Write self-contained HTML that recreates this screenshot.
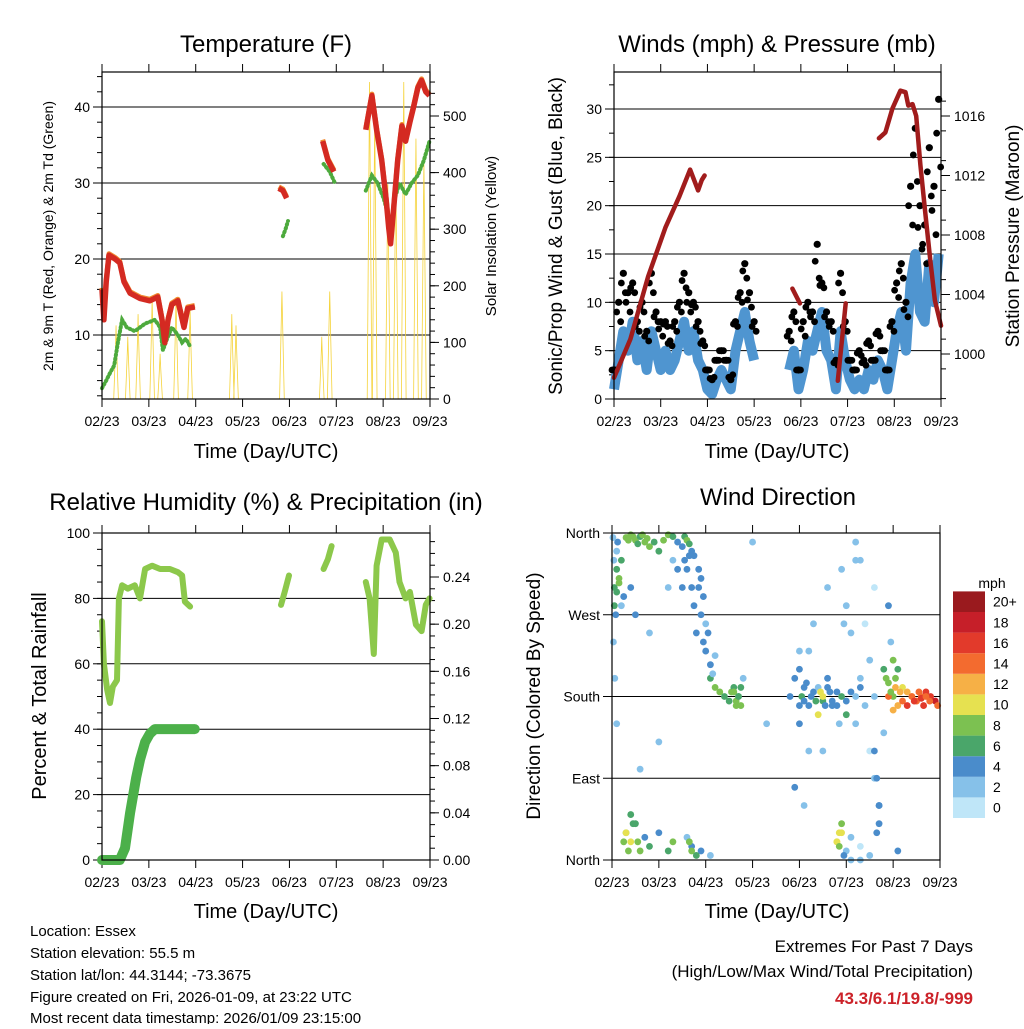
<!DOCTYPE html>
<html><head><meta charset="utf-8"><style>
body{margin:0;background:#fff;}
svg text{font-family:"Liberation Sans",sans-serif;fill:#000;}
</style></head><body>
<svg id="s" width="1024" height="1024" viewBox="0 0 1024 1024" xmlns="http://www.w3.org/2000/svg">
<g id="static">
<text x="266" y="52" font-size="24" text-anchor="middle">Temperature (F)</text>
<text x="777" y="52" font-size="24" text-anchor="middle">Winds (mph) &amp; Pressure (mb)</text>
<text x="266" y="510" font-size="24" text-anchor="middle">Relative Humidity (%) &amp; Precipitation (in)</text>
<text x="778" y="505" font-size="24" text-anchor="middle">Wind Direction</text>
<text x="266" y="458" font-size="20" text-anchor="middle">Time (Day/UTC)</text>
<text x="777" y="458" font-size="20" text-anchor="middle">Time (Day/UTC)</text>
<text x="266" y="918" font-size="20" text-anchor="middle">Time (Day/UTC)</text>
<text x="777" y="918" font-size="20" text-anchor="middle">Time (Day/UTC)</text>
<text transform="translate(53,236) rotate(-90)" font-size="14" text-anchor="middle">2m &amp; 9m T (Red, Orange) &amp; 2m Td (Green)</text>
<text transform="translate(496,236) rotate(-90)" font-size="15" text-anchor="middle">Solar Insolation (Yellow)</text>
<text transform="translate(562,236) rotate(-90)" font-size="19" text-anchor="middle">Sonic/Prop Wind &amp; Gust (Blue, Black)</text>
<text transform="translate(1019,236) rotate(-90)" font-size="19" text-anchor="middle">Station Pressure (Maroon)</text>
<text transform="translate(46,696) rotate(-90)" font-size="20" text-anchor="middle">Percent &amp; Total Rainfall</text>
<text transform="translate(540,696) rotate(-90)" font-size="19" text-anchor="middle">Direction (Colored By Speed)</text>
<text x="992" y="588" font-size="14" text-anchor="middle">mph</text>
<g font-size="15">
<text x="30" y="936">Location: Essex</text>
<text x="30" y="958">Station elevation: 55.5 m</text>
<text x="30" y="980">Station lat/lon: 44.3144; -73.3675</text>
<text x="30" y="1002">Figure created on Fri, 2026-01-09, at 23:22 UTC</text>
<text x="30" y="1023">Most recent data timestamp: 2026/01/09 23:15:00</text>
</g>
<g font-size="17" text-anchor="end">
<text x="973" y="952">Extremes For Past 7 Days</text>
<text x="973" y="977">(High/Low/Max Wind/Total Precipitation)</text>
<text x="973" y="1004" font-weight="bold" style="fill:#cc2229">43.3/6.1/19.8/-999</text>
</g>
</g>
</svg>
<script>
const xTickLabels=["02/23","03/23","04/23","05/23","06/23","07/23","08/23","09/23"];
const tempLeftTicks=[10,20,30,40];
const solarTicks=[0,100,200,300,400,500];
const windTicks=[0,5,10,15,20,25,30];
const pressTicks=[1000,1004,1008,1012,1016];
const rhTicks=[0,20,40,60,80,100];
const precipTicks=[0,0.04,0.08,0.12,0.16,0.20,0.24];
const dirTicks=[0,90,180,270,360];
const dirLabels=["North","East","South","West","North"];
const speedBins=["0","2","4","6","8","10","12","14","16","18","20+"];
const speedColors=["#bfe6f8","#86c1e9","#4a8ccb","#4aa66a","#7cc151","#e6e150","#f6b046","#f36b2f","#e23a2b","#c61f29","#9a1a1e"];

const tempT=[0,0.04,0.09,0.15,0.28,0.38,0.47,0.6,0.81,1.02,1.19,1.28,1.34,1.41,1.49,1.62,1.75,1.83,1.98,null,3.77,3.86,3.94,null,4.71,4.82,4.95,null,5.63,5.76,5.86,5.97,6.06,6.12,6.16,6.23,6.31,6.40,6.48,6.57,6.65,6.74,6.82,6.91,6.99];
const tempV=[16,12,17,20.5,20,19.5,17,15.5,14.8,14.5,15,12,9,12,14,14.5,11,13.5,13.7,null,29.3,29,28,null,35.5,33,31.5,null,37,41.5,37,33,28,24,22,27,33,37.5,35.5,38,40,42.5,43.5,42,41.5];
const tdT=[0,0.09,0.17,0.26,0.34,0.43,0.53,0.7,0.92,1.13,1.24,1.3,1.39,1.49,1.62,1.71,1.79,1.88,null,3.86,3.92,3.97,null,4.73,4.86,4.97,null,5.63,5.76,5.88,6.01,6.10,6.16,6.25,6.35,6.48,6.61,6.74,6.87,6.99];
const tdV=[3,4,5,6,9,12,11,10.5,11.5,12,11,8,9.5,11,10,9,9.5,8.5,null,23,24,25,null,32.5,31.5,30,null,29,31,30,28,26,22,28,30,28.5,30,31,33,35.5];
const solarT=[0.3,0.55,0.77,1.07,1.24,1.58,1.88,2.77,2.86,3.84,4.69,4.86,5.71,5.82,6.1,6.27,6.44,6.7,6.87];
const solarV=[130,110,150,180,80,180,160,150,130,190,110,190,560,500,380,400,560,460,420];

const pressT=[0,0.35,0.73,1.1,1.4,1.63,1.8,1.88,1.94,null,3.82,3.98,null,4.79,4.96,null,5.67,5.81,5.96,6.13,6.24,6.30,6.39,6.47,6.56,6.66,6.77,6.87,7.0];
const pressV=[998.4,1001,1005.2,1008.5,1010.6,1012.4,1011,1011.7,1012,null,1004.4,1003.4,null,998.2,1003.4,null,1014.5,1014.9,1016.5,1017.7,1017.6,1016.7,1016.8,1016,1012.7,1009.6,1006.3,1003.6,1001.9];
const windT=[0,0.1,0.2,0.3,0.4,0.5,0.6,0.7,0.8,0.9,1.0,1.1,1.2,1.3,1.4,1.5,1.6,1.7,1.8,1.9,2.0,2.1,2.2,2.3,2.4,2.5,2.6,2.7,2.8,2.9,3.0,null,3.75,3.85,3.95,4.05,4.15,4.25,4.35,4.45,4.55,4.65,4.75,4.85,4.95,5.05,5.15,5.25,5.35,5.45,5.55,5.65,5.75,5.85,5.95,6.05,6.15,6.25,6.35,6.45,6.55,6.65,6.75,6.85,6.95];
const windV=[1,4,7,5,8,4,6,3,7,5,3,5,3,4,6,8,5,7,4,3,1,0.5,2,3,2,1,5,7,9,6,4,null,3,5,1,3,6,5,7,9,5,4,1,7,4,2,1,2,1,3,2,4,3,1,4,7,9,5,12,15,9,8,14,10,15];
const gustV=[3,10,13,11,12,8,10,7,13,9,8,8,6,8,10,13,11,10,8,6,3,2,4,5,4,2,8,11,14,11,8,null,7,9,3,8,10,9,16,12,9,8,4,13,8,4,3,5,4,6,4,7,5,3,8,12,14,10,22,28,20,18,26,22,31];

const rhT=[0,0.04,0.11,0.17,0.23,0.32,0.36,0.43,0.55,0.7,0.81,0.92,1.07,1.24,1.45,1.62,1.71,1.77,1.88,null,3.82,3.90,3.99,null,4.73,4.82,4.90,null,5.63,5.71,5.8,5.86,5.97,6.14,6.27,6.35,6.48,6.57,6.70,6.82,6.91,6.99];
const rhV=[73,60,52,48,53,55,80,84,83,84,80,89,90,89,89,88,87,79,77.5,null,78,82,87,null,89,92,96,null,85,80,63,90,98,98,94,85,80,82,72,70,78,80];
const precipT=[0,0.38,0.49,0.6,0.73,0.81,0.92,1.02,1.13,1.98];
const precipV=[0,0,0.01,0.04,0.07,0.085,0.1,0.107,0.111,0.111];

const dirT=[0.05,0.1,0.15,0.2,0.25,0.12,0.3,0.4,0.5,0.6,0.7,0.8,0.9,1.0,1.1,1.2,1.3,1.4,1.5,1.55,1.6,1.65,1.7,1.75,1.8,1.85,1.9,1.95,2.0,2.1,2.2,2.3,2.4,2.5,2.55,2.6,2.7,2.65,0.3,0.4,0.5,0.6,0.7,0.8,1.0,1.2,1.3,1.6,1.7,1.9,2.1,0.02,0.1,0.2,0.4,0.5,0.8,3.8,3.9,4.0,4.1,4.2,4.3,4.4,4.5,4.6,4.7,4.8,4.9,5.0,4.0,4.2,4.4,4.6,4.8,5.0,5.1,5.2,5.3,5.4,5.5,5.6,5.2,5.3,5.4,5.5,5.6,5.7,4.8,4.85,4.9,5.0,5.1,5.3,5.5,5.8,5.9,5.95,6.0,6.05,6.1,6.2,6.3,6.4,6.5,6.6,6.7,6.8,6.9,6.95,5.9,6.0,6.1,5.7,3.9,4.1,4.5,5.2,2.8,3.0,3.3,1.0,0.6];
const dirV=[300,320,310,330,290,350,355,358,352,356,350,345,350,340,352,358,356,350,345,330,320,335,300,280,250,300,270,240,230,200,190,185,180,175,185,190,180,170,30,20,40,10,25,15,30,10,20,25,15,10,5,355,340,280,300,270,250,180,200,150,190,170,185,160,175,190,170,185,180,175,210,230,190,200,170,160,185,180,190,170,220,300,350,330,260,120,90,60,20,30,40,10,25,15,5,140,280,240,180,200,210,190,185,180,175,180,185,180,175,170,180,165,10,40,80,60,120,150,200,350,150,130,100,60,70];
const dirS=[5,6,7,5,4,3,7,8,7,6,8,7,5,6,8,7,6,4,3,3,4,3,4,3,3,4,3,3,3,6,7,8,6,5,7,6,5,7,8,9,6,7,4,5,3,6,7,2,3,3,1,2,2,2,3,3,2,3,4,3,3,4,3,10,5,4,3,4,5,3,3,2,2,3,4,5,3,2,3,2,1,0,1,1,0,0,1,3,9,10,8,2,1,0,1,2,3,2,7,8,5,9,12,11,14,13,15,16,18,14,13,12,3,3,3,2,2,1,2,1,2,2,1,2,1];
const dirT2=[0.35,0.45,0.55,0.65,0.75,1.55,1.6,1.65,1.7,1.75,0.05,0.1,0.15,0.08,0.03,0.04,0.06,0.1,1.85,1.9,1.95,2.0,2.05,2.1,2.15,2.2,1.4,1.5,1.3,1.2,2.6,2.65,2.7,2.75,2.75,4.0,4.05,4.1,4.15,4.25,4.35,4.45,4.5,4.55,4.65,4.7,4.0,4.2,4.3,4.6,4.9,5.0,5.1,5.2,5.3,4.95,4.85,4.8,4.85,4.9,4.95,5.1,5.3,5.6,5.65,5.7,5.65,5.6,5.8,5.85,5.9,5.95,6.0,6.05,6.1,6.15,6.2,6.3,6.4,6.45,6.55,6.6,6.65,6.7,6.78,0.25,0.3,0.35,0.4,0.45,0.55,1.65,1.7,1.8];
const dirV2=[352,356,348,358,354,356,352,348,340,335,280,295,305,270,240,330,200,150,320,310,290,260,250,215,205,225,320,300,330,300,185,175,180,190,170,170,180,175,195,180,175,185,180,170,185,175,230,120,260,300,320,280,250,330,200,260,150,20,15,30,5,0,0,120,90,60,30,180,210,200,195,185,220,190,170,185,175,170,180,175,185,178,170,180,175,20,30,10,50,40,20,20,10,5];
const dirS2=[7,8,6,7,8,6,7,5,4,3,6,5,7,4,2,2,1,1,4,3,3,2,3,3,2,2,3,3,2,2,7,8,6,6,8,4,5,3,4,4,5,10,9,4,4,3,2,2,2,1,1,1,1,1,1,2,2,9,8,9,3,2,1,3,3,4,4,2,6,7,7,8,8,11,12,12,13,15,14,16,14,15,16,13,14,8,9,7,5,6,7,7,8,6];

const S=document.getElementById('s');
const NS='http://www.w3.org/2000/svg';
function mk(tag,attrs,parent){const e=document.createElementNS(NS,tag);for(const k in attrs)e.setAttribute(k,attrs[k]);(parent||S).appendChild(e);return e;}
function lin(d0,d1,r0,r1){return v=>r0+(v-d0)*(r1-r0)/(d1-d0);}
function pathFrom(T,V,fx,fy){let d='',pen=false;for(let i=0;i<T.length;i++){if(T[i]===null||V[i]===null){pen=false;continue;}d+=(pen?'L':'M')+fx(T[i]).toFixed(1)+' '+fy(V[i]).toFixed(1);pen=true;}return d;}

function frame(name,L,R,T,B,fx,leftTicks,leftFy,leftFmt,leftMinor,rightTicks,rightFy,rightFmt,rightMinor,grid){
  const g=mk('g',{});
  
  
  (grid||[]).forEach(v=>{const y=leftFy(v);const l=mk('line',{x1:L,x2:R,y1:y,y2:y,stroke:'#000','stroke-width':1},g);
    
    });
  for(let k=0;k<=7;k++){const x=fx(k);
    mk('line',{x1:x,x2:x,y1:B,y2:B+8,stroke:'#000'},g);mk('line',{x1:x,x2:x,y1:T,y2:T-8,stroke:'#000'},g);
    const t=mk('text',{x:x,y:B+27,'font-size':14,'text-anchor':'middle'},g);t.textContent=xTickLabels[k];
    
    }
  (leftMinor||[]).forEach(v=>{const y=leftFy(v);if(y>=T-0.5&&y<=B+0.5)mk('line',{x1:L-5,x2:L,y1:y,y2:y,stroke:'#000'},g);});
  leftTicks.forEach((v,i)=>{const y=leftFy(v);mk('line',{x1:L-9,x2:L,y1:y,y2:y,stroke:'#000'},g);
    const t=mk('text',{x:L-12,y:y+5,'font-size':14,'text-anchor':'end'},g);t.textContent=leftFmt(v,i);
    
    });
  if(rightTicks){(rightMinor||[]).forEach(v=>{const y=rightFy(v);if(y>=T-0.5&&y<=B+0.5)mk('line',{x1:R,x2:R+5,y1:y,y2:y,stroke:'#000'},g);});
    rightTicks.forEach(v=>{const y=rightFy(v);mk('line',{x1:R,x2:R+9,y1:y,y2:y,stroke:'#000'},g);
    const t=mk('text',{x:R+13,y:y+5,'font-size':14},g);t.textContent=rightFmt(v);
    
    });}
  return g;
}
function box(name,L,R,T,B){const r=mk('rect',{x:L,y:T,width:R-L,height:B-T,fill:'none',stroke:'#000','stroke-width':1.2});
  
  }
function range(a,b,s){const o=[];for(let v=a;v<=b+1e-9;v+=s)o.push(+v.toFixed(4));return o;}

// Panel 1: temperature
(function(){
  const L=102,R=430,T=72,B=399;
  const fx=lin(0,7,L,R), fy=lin(10,40,335,107), fs=lin(0,500,399,116);
  frame('temperature',L,R,T,B,fx,tempLeftTicks,fy,v=>v,range(2,44,2),solarTicks,fs,v=>v,range(0,560,20),tempLeftTicks);
  const gs=mk('g',{});
  
  
  solarT.forEach((t,i)=>{const d='M'+fx(t-0.05)+' '+fs(0)+'Q'+fx(t-0.01)+' '+fs(solarV[i]*0.7)+' '+fx(t)+' '+fs(solarV[i])+'Q'+fx(t+0.01)+' '+fs(solarV[i]*0.7)+' '+fx(t+0.05)+' '+fs(0);
    const p=mk('path',{d:d,fill:'none',stroke:'#f5d33b','stroke-width':0.8},gs);
    
    });
  const p1=mk('path',{d:pathFrom(tdT,tdV,fx,fy),fill:'none',stroke:'#4daa3d','stroke-width':4,'stroke-dasharray':'1 3','stroke-linecap':'round'});
  
  
  const p0=mk('path',{d:pathFrom(tempT,tempV,fx,v=>fy(v)-1.5),fill:'none',stroke:'#f08a30','stroke-width':5,'stroke-linejoin':'round'});
  
  
  const p2=mk('path',{d:pathFrom(tempT,tempV,fx,fy),fill:'none',stroke:'#d42a22','stroke-width':5.5,'stroke-linejoin':'round'});
  
  
  box('temperature',L,R,T,B);
})();

// Panel 2: winds & pressure
(function(){
  const L=614,R=941,T=72,B=399;
  const fx=lin(0,7,L,R), fy=lin(0,30,399,109), fp=lin(1000,1016,354,116);
  frame('winds',L,R,T,B,fx,windTicks,fy,v=>v,range(0,34,2.5),pressTicks,fp,v=>v,range(997,1019,2),windTicks.slice(1));
  const pb=mk('path',{d:pathFrom(windT,windV,fx,fy),fill:'none',stroke:'#4f95d0','stroke-width':10,'stroke-linejoin':'round'});
  
  
  const gg=mk('g',{});
  
  
  windT.forEach((t,i)=>{if(t===null)return;
    const c=mk('circle',{cx:fx(t),cy:fy(gustV[i]),r:3.6,fill:'#000'},gg);
    
    
    const c2=mk('circle',{cx:fx(t)+2,cy:fy((gustV[i]+windV[i])/2+1),r:3.4,fill:'#000'},gg);
    
    
    const c3=mk('circle',{cx:fx(t)-2,cy:fy((gustV[i]*3+windV[i])/4+0.5),r:3.4,fill:'#000'},gg);
    
    });
  const pp=mk('path',{d:pathFrom(pressT,pressV,fx,fp),fill:'none',stroke:'#a11c1c','stroke-width':4.5,'stroke-linejoin':'round','stroke-linecap':'round'});
  
  
  box('winds',L,R,T,B);
})();

// Panel 3: humidity & precipitation
(function(){
  const L=102,R=430,T=533,B=860;
  const fx=lin(0,7,L,R), fy=lin(0,100,860,533), fr=lin(0,0.24,860,577);
  frame('humidity',L,R,T,B,fx,rhTicks,fy,v=>v,range(0,100,5),precipTicks,fr,v=>v.toFixed(2),range(0,0.28,0.01),[20,40,60,80]);
  const pr=mk('path',{d:pathFrom(precipT,precipV,fx,fr),fill:'none',stroke:'#4cb04a','stroke-width':10,'stroke-linejoin':'round','stroke-linecap':'round'});
  
  
  const ph=mk('path',{d:pathFrom(rhT,rhV,fx,fy),fill:'none',stroke:'#8cc84b','stroke-width':6,'stroke-linejoin':'round','stroke-linecap':'round'});
  
  
  box('humidity',L,R,T,B);
})();

// Panel 4: wind direction
(function(){
  const L=612,R=940,T=533,B=860;
  const fx=lin(0,7,L,R), fy=lin(0,360,860,533);
  frame('direction',L,R,T,B,fx,dirTicks,fy,(v,i)=>dirLabels[i],[],null,null,null,[],[90,180,270]);
  const gd=mk('g',{});
  
  
  function drawDir(TT,VV,SS){TT.forEach((t,i)=>{const sp=SS[i]===undefined?2:SS[i];const bin=Math.min(10,Math.round(sp/2));
    const c=mk('circle',{cx:fx(t),cy:fy(VV[i]===undefined?180:VV[i]),r:3.4,fill:speedColors[bin]},gd);
    
    });}
  drawDir(dirT,dirV,dirS);
  drawDir(dirT2,dirV2,dirS2);
  box('direction',L,R,T,B);
  const cb=mk('g',{});
  
  
  const h=20.6;
  speedBins.forEach((lab,i)=>{const y=818-(i+1)*h;
    const r=mk('rect',{x:953,y:y,width:32,height:h,fill:speedColors[i]},cb);
    
    
    const t=mk('text',{x:993,y:y+h/2+5,'font-size':14},cb);t.textContent=lab;
    
    });
})();
</script>
</body></html>
